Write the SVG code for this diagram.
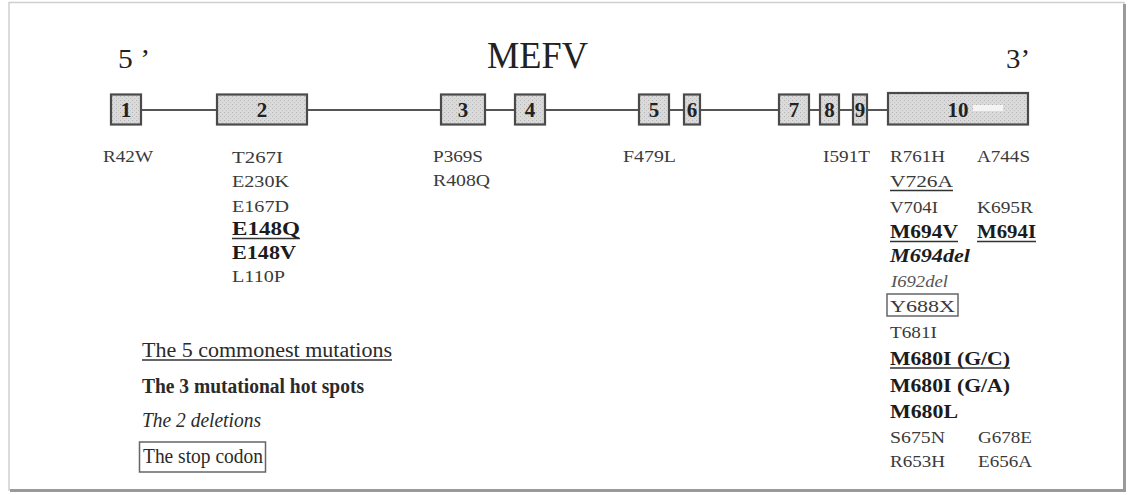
<svg xmlns="http://www.w3.org/2000/svg" width="1132" height="495" viewBox="0 0 1132 495">
<defs>
<pattern id="stip" width="4" height="4" patternUnits="userSpaceOnUse">
<rect width="4" height="4" fill="#dadada"/>
<rect x="0" y="0" width="1" height="1" fill="#b4b4b4"/>
<rect x="2" y="2" width="1" height="1" fill="#c2c2c2"/>
</pattern>
<style>
.exon{fill:url(#stip);stroke:#4a4a4a;stroke-width:2.2}
.num{font-family:"Liberation Serif",serif;font-weight:bold;font-size:21px;fill:#222;text-anchor:middle}
.intron{stroke:#555;stroke-width:2;fill:none}
.m{font-family:"Liberation Serif",serif;font-size:17px;fill:#3a3a3a}
.b{font-family:"Liberation Serif",serif;font-size:19px;font-weight:bold;fill:#1c1c1c}
.bi{font-family:"Liberation Serif",serif;font-size:19px;font-weight:bold;font-style:italic;fill:#1c1c1c}
.i{font-family:"Liberation Serif",serif;font-size:17px;font-style:italic;fill:#555}
.ul{stroke:#333;stroke-width:1.6}
.box{fill:none;stroke:#666;stroke-width:1.5}
.title{font-family:"Liberation Serif",serif;fill:#222}
.lg{font-family:"Liberation Serif",serif;font-size:20px;fill:#2a2a2a}
</style>
</defs>
<rect x="0" y="0" width="1132" height="495" fill="#fff"/>
<!-- frame -->
<rect x="9" y="2.5" width="1115" height="487.5" fill="#fff" stroke="#cfcfcf" stroke-width="1.5"/>
<line x1="1124.5" y1="4" x2="1124.5" y2="491" stroke="#9a9a9a" stroke-width="3"/>
<line x1="10" y1="490.5" x2="1126" y2="490.5" stroke="#9a9a9a" stroke-width="3"/>

<!-- titles -->
<text class="title" x="118" y="68" font-size="28" textLength="32" lengthAdjust="spacingAndGlyphs">5 ’</text>
<text class="title" x="487" y="68" font-size="37" textLength="101" lengthAdjust="spacingAndGlyphs">MEFV</text>
<text class="title" x="1006" y="68" font-size="28" textLength="24" lengthAdjust="spacingAndGlyphs">3’</text>

<!-- connectors (introns) -->
<g id="connectors">
<line class="intron" x1="141" y1="110" x2="217" y2="110"/>
<line class="intron" x1="307" y1="110" x2="441" y2="110"/>
<line class="intron" x1="485" y1="110" x2="515" y2="110"/>
<line class="intron" x1="545" y1="110" x2="639" y2="110"/>
<line class="intron" x1="669" y1="110" x2="684" y2="110"/>
<line class="intron" x1="700" y1="110" x2="779" y2="110"/>
<line class="intron" x1="809" y1="110" x2="820" y2="110"/>
<line class="intron" x1="839" y1="110" x2="853" y2="110"/>
<line class="intron" x1="867" y1="110" x2="888" y2="110"/>
</g>

<!-- exons -->
<g id="exon1"><rect class="exon" x="111" y="94.5" width="30" height="30"/><text class="num" x="126" y="117">1</text></g>
<g id="exon2"><rect class="exon" x="217" y="94.5" width="90" height="30"/><text class="num" x="262" y="117">2</text></g>
<g id="exon3"><rect class="exon" x="441" y="94.5" width="44" height="30"/><text class="num" x="463" y="117">3</text></g>
<g id="exon4"><rect class="exon" x="515" y="94.5" width="30" height="30"/><text class="num" x="530" y="117">4</text></g>
<g id="exon5"><rect class="exon" x="639" y="94.5" width="30" height="30"/><text class="num" x="654" y="117">5</text></g>
<g id="exon6"><rect class="exon" x="684" y="94.5" width="16" height="30"/><text class="num" x="692" y="117">6</text></g>
<g id="exon7"><rect class="exon" x="779" y="94.5" width="30" height="30"/><text class="num" x="794" y="117">7</text></g>
<g id="exon8"><rect class="exon" x="820" y="94.5" width="19" height="30"/><text class="num" x="829.5" y="117">8</text></g>
<g id="exon9"><rect class="exon" x="853" y="94.5" width="14" height="30"/><text class="num" x="860" y="117">9</text></g>
<g id="exon10"><rect class="exon" x="888" y="93" width="140" height="31.5"/><rect x="973" y="105" width="30" height="6" fill="#f4f4f4"/><text class="num" x="958" y="117">10</text></g>

<!-- mutations -->
<g id="mutations-exon1">
<text class="m" x="103" y="162" textLength="50" lengthAdjust="spacingAndGlyphs">R42W</text>
</g>
<g id="mutations-exon2">
<text class="m" x="232" y="163" textLength="51" lengthAdjust="spacingAndGlyphs">T267I</text>
<text class="m" x="232" y="187" textLength="57" lengthAdjust="spacingAndGlyphs">E230K</text>
<text class="m" x="232" y="211.5" textLength="57" lengthAdjust="spacingAndGlyphs">E167D</text>
<text class="b" x="232" y="235" textLength="68" lengthAdjust="spacingAndGlyphs">E148Q</text>
<line class="ul" x1="232" y1="238.5" x2="300" y2="238.5"/>
<text class="b" x="232" y="259" textLength="64" lengthAdjust="spacingAndGlyphs">E148V</text>
<text class="m" x="232" y="282" textLength="53" lengthAdjust="spacingAndGlyphs">L110P</text>
</g>
<g id="mutations-exon3">
<text class="m" x="433" y="162" textLength="50" lengthAdjust="spacingAndGlyphs">P369S</text>
<text class="m" x="433" y="185.5" textLength="57" lengthAdjust="spacingAndGlyphs">R408Q</text>
</g>
<g id="mutations-exon5">
<text class="m" x="623" y="162" textLength="53" lengthAdjust="spacingAndGlyphs">F479L</text>
</g>
<g id="mutations-exon9">
<text class="m" x="823" y="162" textLength="47" lengthAdjust="spacingAndGlyphs">I591T</text>
</g>
<g id="mutations-exon10">
<text class="m" x="890" y="162" textLength="55" lengthAdjust="spacingAndGlyphs">R761H</text>
<text class="m" x="977" y="162" textLength="53" lengthAdjust="spacingAndGlyphs">A744S</text>
<text class="m" x="890" y="187" textLength="63" lengthAdjust="spacingAndGlyphs">V726A</text>
<line class="ul" x1="890" y1="190.5" x2="953" y2="190.5"/>
<text class="m" x="890" y="212.5" textLength="48" lengthAdjust="spacingAndGlyphs">V704I</text>
<text class="m" x="977" y="212.5" textLength="56" lengthAdjust="spacingAndGlyphs">K695R</text>
<text class="b" x="890" y="238" textLength="68" lengthAdjust="spacingAndGlyphs">M694V</text>
<line class="ul" x1="890" y1="241.5" x2="958" y2="241.5"/>
<text class="b" x="977" y="238" textLength="59" lengthAdjust="spacingAndGlyphs">M694I</text>
<line class="ul" x1="977" y1="241.5" x2="1036" y2="241.5"/>
<text class="bi" x="890" y="262" textLength="80" lengthAdjust="spacingAndGlyphs">M694del</text>
<text class="i" x="891" y="286.5" textLength="57" lengthAdjust="spacingAndGlyphs">I692del</text>
<rect class="box" x="887" y="294" width="71" height="22"/>
<text class="m" x="890" y="312" textLength="65" lengthAdjust="spacingAndGlyphs">Y688X</text>
<text class="m" x="890" y="338" textLength="47" lengthAdjust="spacingAndGlyphs">T681I</text>
<text class="b" x="890" y="364.5" textLength="120" lengthAdjust="spacingAndGlyphs">M680I (G/C)</text>
<line class="ul" x1="890" y1="368" x2="1010" y2="368"/>
<text class="b" x="890" y="391.5" textLength="120" lengthAdjust="spacingAndGlyphs">M680I (G/A)</text>
<text class="b" x="890" y="418" textLength="68" lengthAdjust="spacingAndGlyphs">M680L</text>
<text class="m" x="890" y="443" textLength="55" lengthAdjust="spacingAndGlyphs">S675N</text>
<text class="m" x="978" y="443" textLength="54" lengthAdjust="spacingAndGlyphs">G678E</text>
<text class="m" x="890" y="467" textLength="55" lengthAdjust="spacingAndGlyphs">R653H</text>
<text class="m" x="978" y="467" textLength="54" lengthAdjust="spacingAndGlyphs">E656A</text>
</g>

<!-- legend -->
<g id="legend">
<text class="lg" x="142" y="356.5" textLength="250" lengthAdjust="spacingAndGlyphs">The 5 commonest mutations</text>
<line class="ul" x1="142" y1="360" x2="392" y2="360" stroke="#555"/>
<text class="lg" x="142" y="392.5" font-size="18" font-weight="bold" fill="#1c1c1c" textLength="222" lengthAdjust="spacingAndGlyphs">The 3 mutational hot spots</text>
<text class="lg" x="142" y="427" font-size="19" font-style="italic" fill="#444" textLength="119" lengthAdjust="spacingAndGlyphs">The 2 deletions</text>
<rect class="box" x="139.5" y="442" width="126" height="30"/>
<text class="lg" x="143" y="463" textLength="120" lengthAdjust="spacingAndGlyphs">The stop codon</text>
</g>
</svg>
